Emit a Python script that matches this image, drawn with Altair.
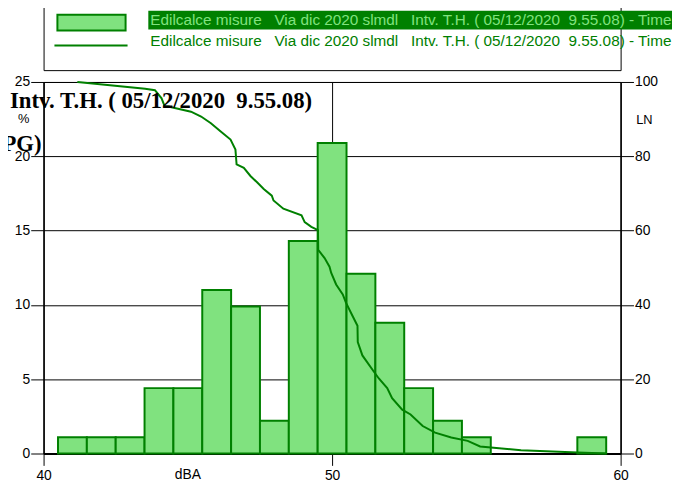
import altair as alt
import pandas as pd

# ---- data ----
bin_centers = [41, 42, 43, 44, 45, 46, 47, 48, 49, 50, 51, 52, 53, 54, 55, 59]
bin_pct = [1.1, 1.1, 1.1, 4.4, 4.4, 11.0, 9.9, 2.2, 14.3, 20.9, 12.1, 8.8, 4.4, 2.2, 1.1, 1.1]

ln_dba = [41.17, 43.52, 43.86, 44.09, 44.20, 44.32, 45.11, 45.46, 45.80, 46.14,
          46.48, 46.65, 46.69, 46.94, 47.17, 47.40, 47.63, 47.91, 47.97, 48.31,
          48.94, 49.05, 49.28, 49.51, 49.52, 49.74, 49.91, 49.97, 50.14, 50.37,
          50.48, 50.71, 50.88, 50.89, 51.05, 51.45, 51.62, 51.91, 52.08, 52.43,
          52.72, 53.14, 53.57, 54.13, 54.70, 55.13, 56.55, 58.51, 59.50]
ln_val = [100.0, 98.2, 97.8, 95.6, 93.4, 93.4, 92.0, 90.7, 88.9, 86.7,
          84.5, 81.8, 77.8, 76.9, 74.7, 73.0, 71.2, 69.4, 68.1, 65.9,
          64.1, 62.3, 61.0, 60.1, 54.8, 52.6, 50.3, 48.6, 45.5, 42.8,
          40.6, 37.0, 34.4, 30.0, 26.4, 22.0, 20.2, 17.6, 14.9, 11.8,
          10.5, 7.4, 5.6, 4.3, 3.4, 1.9, 0.9, 0.3, 0.0]

x_ticks = [40, 50, 60]
y_left_ticks = [0, 5, 10, 15, 20, 25]
y_right_ticks = [0, 20, 40, 60, 80, 100]

legend_text = ("Edilcalce misure\u00a0\u00a0 Via dic 2020 slmdl\u00a0\u00a0 Intv. T.H. "
               "(\u00a005/12/2020\u00a0 9.55.08) - Time History")
title_text = "Intv. T.H. (\u00a005/12/2020\u00a0 9.55.08)"

GREEN = "#008000"
FILL = "#80E27F"
SANS = "Liberation Sans, Arial, sans-serif"
SERIF = "Liberation Serif, Times New Roman, serif"

W, H = 584, 376

bar_df = pd.DataFrame({
    "x0": [c - 0.5 for c in bin_centers],
    "x1": [c + 0.5 for c in bin_centers],
    "pct": bin_pct,
})
ln_df = pd.DataFrame({"dba": ln_dba, "ln": ln_val, "i": list(range(len(ln_dba)))})

xscale = alt.Scale(domain=[40, 60], nice=False, zero=False)

bars = alt.Chart(bar_df).mark_rect(fill=FILL, stroke=GREEN, strokeWidth=2).encode(
    x=alt.X("x0:Q", scale=xscale,
            axis=alt.Axis(values=x_ticks, grid=True, title=None, tickSize=12,
                          labelPadding=3, domainWidth=2, format="d", labelFlush=False)),
    x2="x1:Q",
    y=alt.Y("pct:Q", scale=alt.Scale(domain=[0, 25], nice=False),
            axis=alt.Axis(orient="left", values=y_left_ticks, grid=True, title=None,
                          tickSize=13, labelPadding=1, format="d")),
)

line = alt.Chart(ln_df).mark_line(color=GREEN, strokeWidth=2).encode(
    x=alt.X("dba:Q", scale=xscale),
    y=alt.Y("ln:Q", scale=alt.Scale(domain=[0, 100], nice=False),
            axis=alt.Axis(orient="right", values=y_right_ticks, grid=False, title=None,
                          tickSize=13, labelPadding=1, format="d")),
    order=alt.Order("i:Q"),
)

one = pd.DataFrame({"k": [0]})

def txt(text, x, y, size, font=SANS, color="black", align="center",
        baseline="middle", weight="normal"):
    return alt.Chart(one).mark_text(
        font=font, fontSize=size, color=color, align=align, baseline=baseline,
        fontWeight=weight,
    ).encode(x=alt.value(x), y=alt.value(y), text=alt.value(text))

legend_box = alt.Chart(one).mark_rect(fill="white", stroke="black", strokeWidth=1).encode(
    x=alt.value(0.5), x2=alt.value(584.5), y=alt.value(-90), y2=alt.value(-11.5))
legend_sel = alt.Chart(one).mark_rect(fill=GREEN, stroke=None).encode(
    x=alt.value(106), x2=alt.value(700), y=alt.value(-72), y2=alt.value(-53))
legend_swatch = alt.Chart(one).mark_rect(fill=FILL, stroke=GREEN, strokeWidth=2).encode(
    x=alt.value(14), x2=alt.value(83), y=alt.value(-68), y2=alt.value(-52))
legend_line = alt.Chart(one).mark_rule(color=GREEN, strokeWidth=2).encode(
    x=alt.value(11), x2=alt.value(85), y=alt.value(-37))

chart = alt.layer(
    bars,
    line,
    legend_box,
    legend_sel,
    legend_swatch,
    legend_line,
    txt(legend_text, 108, -58, 15.5, color=FILL, align="left", baseline="alphabetic"),
    txt(legend_text, 108, -36, 15.5, color=GREEN, align="left", baseline="alphabetic"),
    txt(title_text, -34, 26, 23, font=SERIF, align="left", baseline="alphabetic", weight="bold"),
    txt("PG)", -2, 70, 23, font=SERIF, align="right", baseline="alphabetic", weight="bold"),
    txt("%", -20, 37.5, 13),
    txt("LN", 608, 39, 13),
    txt("dBA", 146, 398, 14),
).resolve_scale(y="independent").properties(
    width=W, height=H,
    autosize=alt.AutoSizeParams(type="none"),
    padding={"left": 36, "top": 72, "right": 52, "bottom": 30},
).configure_view(stroke="black", strokeWidth=1).configure_axis(
    labelFont=SANS, labelFontSize=14, labelColor="black",
    tickColor="black", domainColor="black", gridColor="black",
    gridOpacity=1, gridWidth=1, tickWidth=1,
)

chart.save("out.html", embed_options={"renderer": "svg", "actions": False})
